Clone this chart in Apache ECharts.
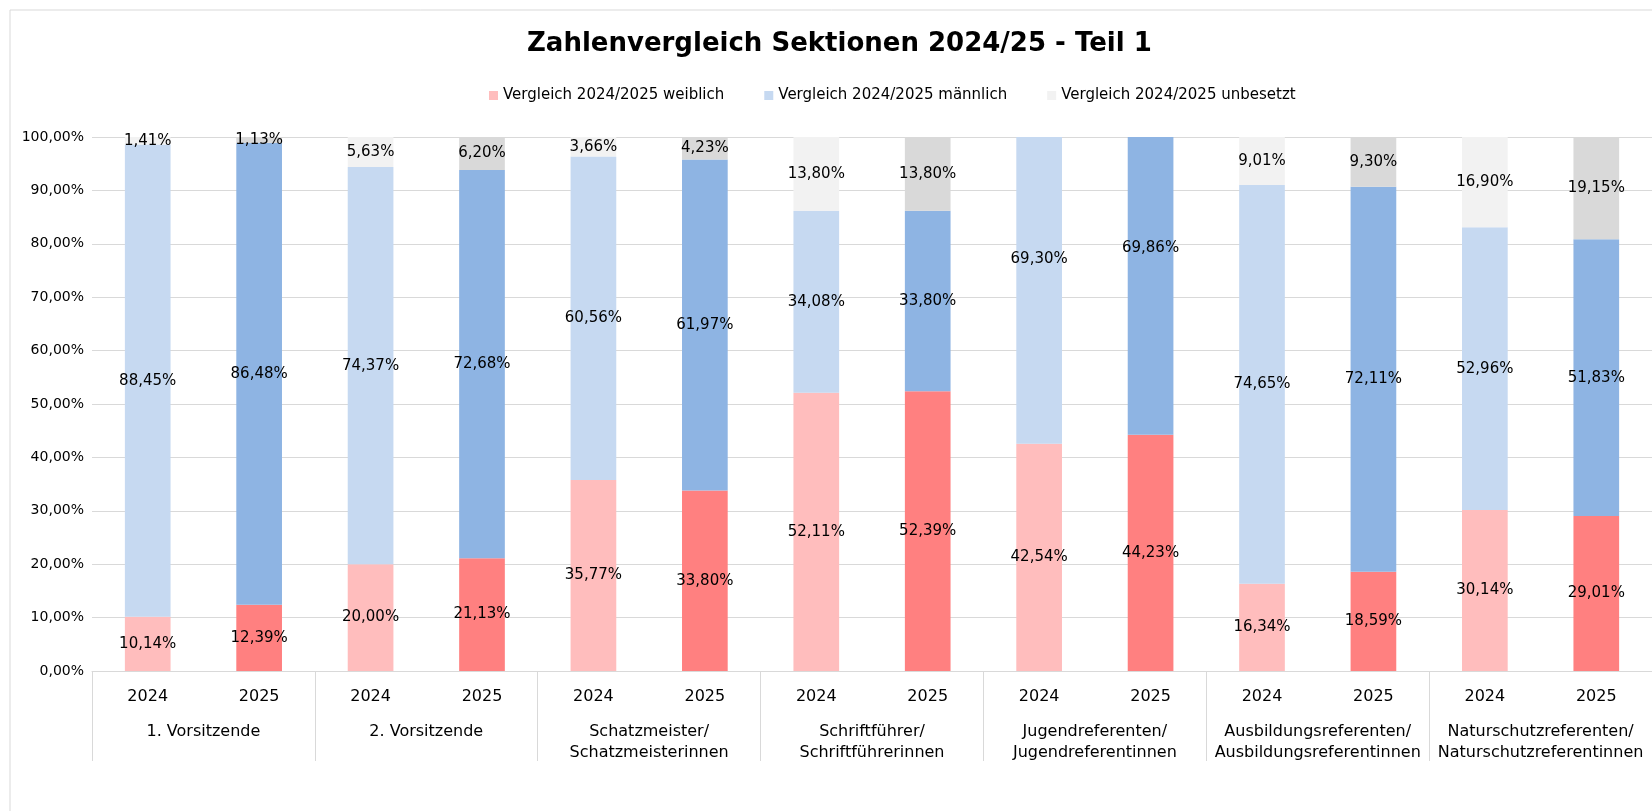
<!DOCTYPE html>
<html>
<head>
<meta charset="utf-8">
<script src="https://cdn.jsdelivr.net/npm/echarts@6/dist/echarts.min.js"></script>
<style>
  html, body { margin: 0; padding: 0; background: #fff; }
  #chart { width: 1652px; height: 811px; }
</style>
</head>
<body>
<div id="chart"></div>
<script>
// Kategorien
const years = ['2024', '2025', '2024', '2025', '2024', '2025', '2024', '2025', '2024', '2025', '2024', '2025', '2024', '2025']
const groups = [
  '1. Vorsitzende',
  '2. Vorsitzende',
  'Schatzmeister/\nSchatzmeisterinnen',
  'Schriftführer/\nSchriftführerinnen',
  'Jugendreferenten/\nJugendreferentinnen',
  'Ausbildungsreferenten/\nAusbildungsreferentinnen',
  'Naturschutzreferenten/\nNaturschutzreferentinnen'
]

// Werte in Prozent
const weiblich = [10.14, 12.39, 20.00, 21.13, 35.77, 33.80, 52.11, 52.39, 42.54, 44.23, 16.34, 18.59, 30.14, 29.01]
const maennlich = [88.45, 86.48, 74.37, 72.68, 60.56, 61.97, 34.08, 33.80, 69.30, 69.86, 74.65, 72.11, 52.96, 51.83]
const unbesetzt = [1.41, 1.13, 5.63, 6.20, 3.66, 4.23, 13.80, 13.80, 0, 0, 9.01, 9.30, 16.90, 19.15]

const yTicks = [0, 10, 20, 30, 40, 50, 60, 70, 80, 90, 100]

const seriesNames = [
  'Vergleich 2024/2025 weiblich',
  'Vergleich 2024/2025 männlich',
  'Vergleich 2024/2025 unbesetzt'
]
// [2024, 2025]
const colors = [
  ['#FFBDBD', '#FF8080'],
  ['#C6D9F1', '#8EB4E3'],
  ['#F2F2F2', '#D9D9D9']
]

const FONT = 'DejaVu Sans'
const yMax = yTicks[yTicks.length - 1]

const fmt = v => v.toFixed(2).replace('.', ',') + '%'

const chart = echarts.init(document.getElementById('chart'))

const allValues = [weiblich, maennlich, unbesetzt]

function makeSeries(name, k) {
  const values = allValues[k]
  const pair = colors[k]
  return {
    name: name,
    type: 'bar',
    stack: 'total',
    barWidth: '41%',
    xAxisIndex: 0,
    itemStyle: { color: pair[0] },
    label: {
      show: true,
      position: 'inside',
      color: '#000',
      fontFamily: FONT,
      fontSize: 15,
      formatter: p => (p.value ? fmt(p.value) : '')
    },
    data: values.map((v, i) => {
      const item = { value: v, itemStyle: { color: pair[i % 2] } }
      // Balken über 100% wird abgeschnitten, Beschriftung bleibt in der Mitte des ganzen Segments (wie Excel)
      let base = 0
      for (let j = 0; j < k; j++) base += allValues[j][i]
      if (base + v > yMax && base < yMax) {
        const mid = base + v / 2
        const frac = (yMax - mid) / (yMax - base)
        item.label = { position: ['50%', (frac * 100).toFixed(1) + '%'], align: 'center', verticalAlign: 'middle' }
      }
      return item
    })
  }
}

chart.setOption({
  animation: false,
  textStyle: { fontFamily: FONT },
  title: {
    text: 'Zahlenvergleich Sektionen 2024/25 - Teil 1',
    left: 522,
    top: 26,
    textStyle: { fontFamily: FONT, fontWeight: 'bold', fontSize: 26, color: '#000' }
  },
  legend: {
    top: 83,
    left: 484,
    itemWidth: 9,
    itemHeight: 9,
    itemGap: 40,
    icon: 'rect',
    textStyle: { fontFamily: FONT, fontSize: 15, color: '#000' },
    data: seriesNames
  },
  graphic: [{
    type: 'rect',
    shape: { x: 10, y: 10, width: 1700, height: 900 },
    style: { fill: 'none', stroke: '#D9D9D9', lineWidth: 1 },
    silent: true
  }],
  grid: { left: 92, right: 0, top: 137, bottom: 140 },
  xAxis: [{
    type: 'category',
    data: years,
    axisLine: { lineStyle: { color: '#D9D9D9' } },
    axisTick: { show: false },
    axisLabel: { margin: 18, fontSize: 16, color: '#000', fontFamily: FONT }
  }, {
    type: 'category',
    data: groups,
    position: 'bottom',
    axisLine: { show: false },
    axisTick: { show: true, length: 90, lineStyle: { color: '#D9D9D9' } },
    axisLabel: { margin: 50, fontSize: 16, lineHeight: 21, color: '#000', fontFamily: FONT, interval: 0 }
  }],
  yAxis: {
    type: 'value',
    min: yTicks[0],
    max: yMax,
    interval: 10,
    axisLine: { show: false },
    axisTick: { show: false },
    splitLine: { lineStyle: { color: '#D9D9D9' } },
    axisLabel: { margin: 8, fontSize: 14, color: '#000', fontFamily: FONT, formatter: v => fmt(v) }
  },
  series: seriesNames.map((n, k) => makeSeries(n, k))
})
</script>
</body>
</html>
